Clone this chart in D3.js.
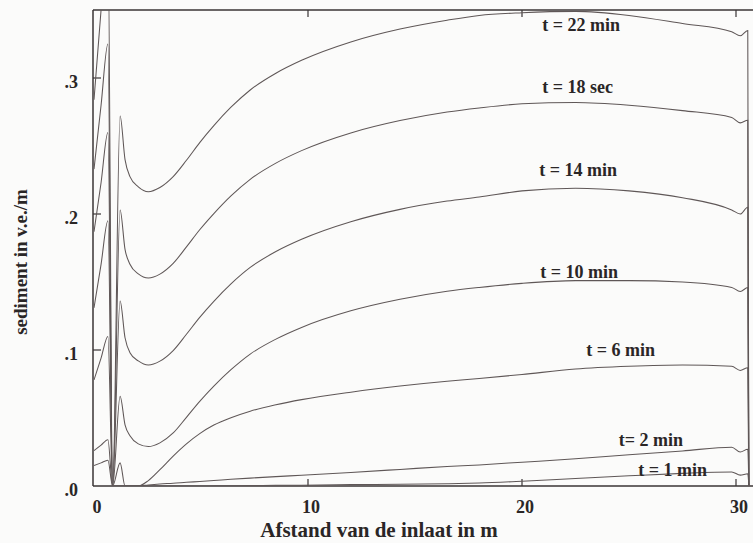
<!DOCTYPE html>
<html>
<head>
<meta charset="utf-8">
<script src="https://cdn.jsdelivr.net/npm/d3@7"></script>
<style>
  html, body { margin: 0; padding: 0; background: #fbfbfa; }
  svg { display: block; }
  text { font-family: "Liberation Serif", "DejaVu Serif", serif; fill: #2a2626; }
</style>
</head>
<body>
<svg id="chart" width="753" height="543"></svg>
<script>
// Distance from the inlet (m) at which the sediment profiles are sampled
const distance = [0, 0.33, 0.65, 0.87, 1.22, 1.45, 1.68, 2.07, 2.54, 3.08, 3.7, 4.32, 4.94,
  5.6, 6.4, 7.3, 8.5, 9.7, 12, 14.3, 16.5, 18, 20, 22.5, 25, 27.5, 29.8, 30.2, 30.55, 30.6];

// Sediment per metre (v.e./m) for each moment in time
const t22 = [0.284, 0.350, 0.410, 0, 0.272, 0.240, 0.2275, 0.220, 0.2164, 0.2195, 0.2275, 0.2395, 0.2525,
  0.265, 0.2785, 0.2912, 0.3035, 0.313, 0.3265, 0.336, 0.3425, 0.346, 0.348, 0.349, 0.346, 0.340, 0.334, 0.331, 0.335, 0];
const t18 = [0.233, 0.280, 0.325, 0, 0.203, 0.174, 0.163, 0.156, 0.153, 0.1558, 0.1637, 0.1758, 0.1884,
  0.2003, 0.2133, 0.2255, 0.2374, 0.2466, 0.2596, 0.2687, 0.275, 0.278, 0.281, 0.282, 0.280, 0.276, 0.271, 0.267, 0.269, 0];
const t14 = [0.187, 0.223, 0.260, 0, 0.136, 0.109, 0.098, 0.092, 0.089, 0.0918, 0.0996, 0.1116, 0.124,
  0.1358, 0.1486, 0.1607, 0.1724, 0.1814, 0.1943, 0.2034, 0.2095, 0.2125, 0.217, 0.219, 0.217, 0.212, 0.203, 0.200, 0.205, 0];
const t10 = [0.131, 0.163, 0.195, 0, 0.066, 0.045, 0.037, 0.031, 0.029, 0.0317, 0.039, 0.0505, 0.0622,
  0.0734, 0.0855, 0.097, 0.108, 0.1166, 0.1288, 0.1373, 0.1432, 0.146, 0.149, 0.151, 0.151, 0.150, 0.146, 0.143, 0.146, 0];
const t6 = [0.078, 0.094, 0.110, 0, 0.017, 0, 0, 0, 0.004, 0.012, 0.022, 0.031, 0.0385,
  0.0448, 0.0502, 0.055, 0.0597, 0.0635, 0.069, 0.0735, 0.077, 0.079, 0.082, 0.086, 0.088, 0.089, 0.088, 0.085, 0.087, 0];
const t2 = [0.026, 0.030, 0.034, 0, 0, 0, 0, 0, 0.0008, 0.0015, 0.002, 0.0027, 0.0033,
  0.004, 0.0049, 0.0058, 0.0069, 0.0079, 0.010, 0.0122, 0.0143, 0.0155, 0.0175, 0.020, 0.023, 0.0258, 0.0285, 0.025, 0.027, 0];
const t1 = [0.015, 0.017, 0.019, 0, 0, 0, 0, 0, 0, 0, 0, 0, 0,
  0.0001, 0.0002, 0.0003, 0.0005, 0.0006, 0.001, 0.0013, 0.0017, 0.0022, 0.0035, 0.0055, 0.0075, 0.0093, 0.0103, 0.008, 0.009, 0];

const seriesLabels = ["t = 22 min", "t = 18 sec", "t = 14 min", "t = 10 min", "t = 6 min", "t= 2 min", "t = 1 min"];
const seriesValues = [t22, t18, t14, t10, t6, t2, t1];

const xTicks = [0, 10, 20, 30];
const xTickLabels = ["0", "10", "20", "30"];
const yTicks = [0, 0.1, 0.2, 0.3];
const yTickLabels = [".0", ".1", ".2", ".3"];

const xTitle = "Afstand van de inlaat in m";
const yTitle = "sediment in v.e./m";

(function draw() {
  const svg = d3.select("#chart");
  const pLeft = 94, pTop = 10, pBottom = 486, pRight = 758;

  const x = d3.scaleLinear().domain([0, 31]).range([pLeft, pLeft + 31 * 21.4]);
  const y = d3.scaleLinear().domain([0, 0.35]).range([pBottom, pTop]);

  svg.append("defs").append("clipPath").attr("id", "plot")
    .append("rect").attr("x", pLeft).attr("y", pTop)
    .attr("width", pRight - pLeft).attr("height", pBottom - pTop);

  // frame (its right edge lies just outside the window)
  const frame = svg.append("g").attr("stroke", "#3a3535").attr("stroke-width", 1.5).attr("fill", "none");
  frame.append("line").attr("x1", pLeft - 1).attr("x2", 753).attr("y1", pTop).attr("y2", pTop);
  frame.append("line").attr("x1", pLeft - 1).attr("x2", 753).attr("y1", pBottom).attr("y2", pBottom);
  frame.append("line").attr("x1", pLeft - 1).attr("x2", pLeft - 1).attr("y1", pTop).attr("y2", pBottom);

  // inward ticks
  const ticks = svg.append("g").attr("stroke", "#3a3535").attr("stroke-width", 1.2);
  ticks.append("g").selectAll("line").data(xTicks.slice(1)).join("line")
    .attr("x1", d => x(d)).attr("x2", d => x(d)).attr("y1", pBottom).attr("y2", pBottom - 7);
  ticks.append("g").selectAll("line").data(xTicks.slice(1)).join("line")
    .attr("x1", d => x(d)).attr("x2", d => x(d)).attr("y1", pTop).attr("y2", pTop + 7);
  ticks.append("g").selectAll("line").data(yTicks.slice(1)).join("line")
    .attr("x1", pLeft - 1).attr("x2", pLeft + 7).attr("y1", d => y(d)).attr("y2", d => y(d));

  // tick labels
  svg.append("g").selectAll("text").data(xTicks).join("text")
    .attr("x", d => x(d) + 3).attr("y", 513)
    .attr("text-anchor", "middle").attr("font-size", 18).attr("font-weight", "bold")
    .text((d, i) => xTickLabels[i]);
  svg.append("g").selectAll("text").data(yTicks).join("text")
    .attr("x", 78).attr("y", d => y(d) + 10)
    .attr("text-anchor", "end").attr("font-size", 18).attr("font-weight", "bold")
    .text((d, i) => yTickLabels[i]);

  // axis titles
  svg.append("text").attr("x", 379).attr("y", 537).attr("text-anchor", "middle")
    .attr("font-size", 21).attr("font-weight", "bold").text(xTitle);
  svg.append("text").attr("transform", "translate(27,262) rotate(-90)").attr("text-anchor", "middle")
    .attr("font-size", 19).attr("font-weight", "bold").text(yTitle);

  // profiles
  const line = d3.line()
    .x((d, i) => x(distance[i]))
    .y(d => y(d))
    .curve(d3.curveMonotoneX);

  svg.append("g").attr("clip-path", "url(#plot)")
    .selectAll("path").data(seriesValues).join("path")
    .attr("d", line)
    .attr("fill", "none")
    .attr("stroke", "#5f5757")
    .attr("stroke-width", 1.05);

  // curve annotations, right-aligned
  const labelPos = [[620, 31], [613, 93], [617, 176], [618, 278], [655, 356], [683, 446], [707, 476]];
  svg.append("g").selectAll("text").data(seriesLabels).join("text")
    .attr("x", (d, i) => labelPos[i][0]).attr("y", (d, i) => labelPos[i][1])
    .attr("text-anchor", "end")
    .attr("font-size", 18).attr("font-weight", "bold")
    .text(d => d);
})();
</script>
</body>
</html>
